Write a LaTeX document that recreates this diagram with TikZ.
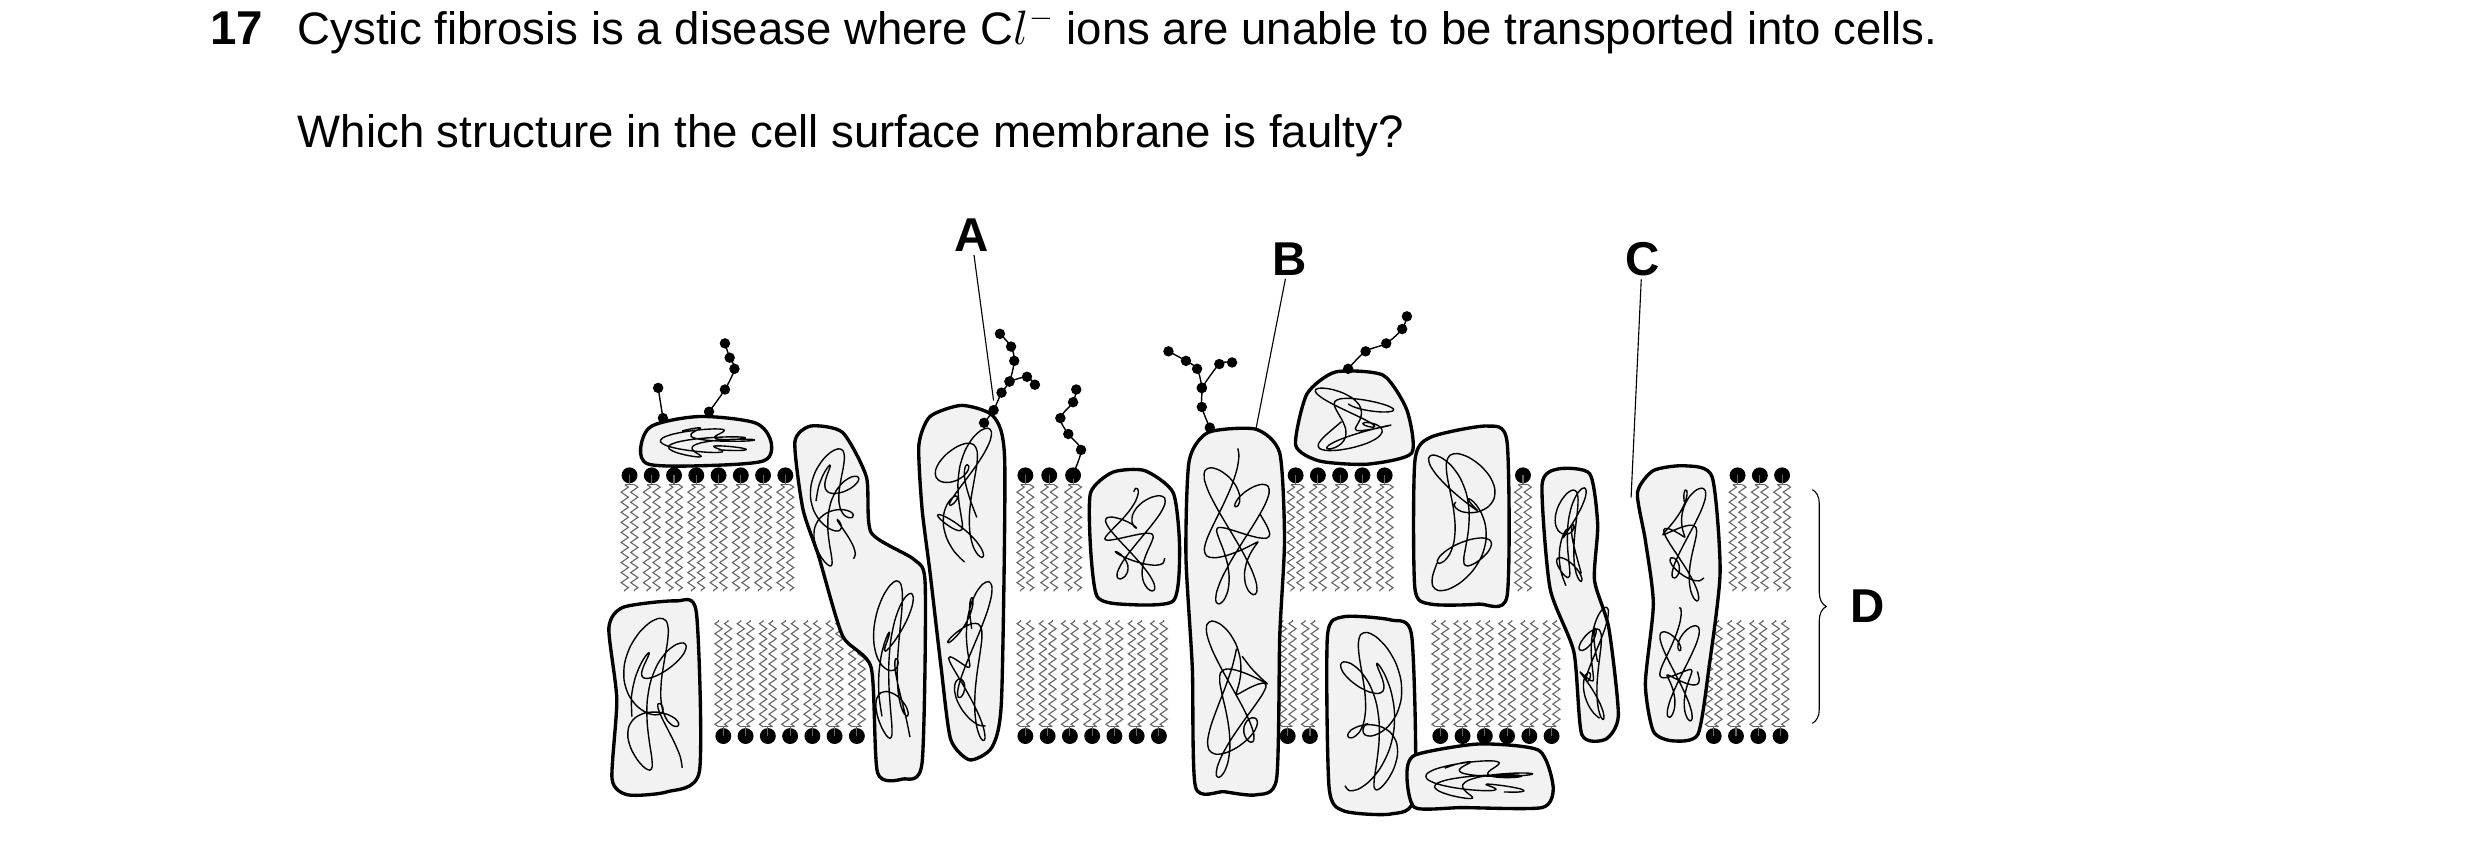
\documentclass[tikz,border=0pt]{standalone}
\usepackage{fontspec}
\setmainfont{Liberation Sans}
\usetikzlibrary{decorations.pathmorphing,decorations.pathreplacing}
\tikzset{
    protein/.style={
        draw,
        very thick, % outline of the protein
        fill=gray!10,
        line join=round
    },
    squiggle/.style={
        line width=0.5pt,
        line join=round
    },
    tail/.style={
        gray!80!black,
        line width=0.4pt,
        decorate,
        decoration={zigzag, amplitude=1.3pt, segment length=3.6pt}
    },
    chain/.style={
        line width=0.5pt,
        mark=*,
        mark size=1.6pt
    },
    label/.style={
        font=\bfseries\fontsize{17}{20}\selectfont,
        inner sep=1pt
    }
}
% one phospholipid: head at (#1,#2), tails towards #3
\newcommand{\lipid}[3]{
    \fill (#1,#2) circle (5);
    \draw[gray!80!black, line width=0.4pt] (#1,#2) -- (#1,{#2+(#3-#2)*0.08});
    \draw[gray!80!black, line width=0.4pt] (#1-3,{#2+(#3-#2)*0.08}) -- (#1+3,{#2+(#3-#2)*0.08});
    \draw[tail] (#1-3,{#2+(#3-#2)*0.08}) -- (#1-3,#3);
    \draw[tail] (#1+3,{#2+(#3-#2)*0.08}) -- (#1+3,#3);
}
% looped chain inside a box, #5 shifts the phase
\newcommand{\coil}[5]{
    \draw[squiggle] plot[smooth, domain=0:330, samples=70]
        ({(#1+#3)/2+(#3-#1)/2*(0.55*sin(3*\x+#5)+0.35*sin(7*\x+2*#5))},
         {(#2+#4)/2+(#4-#2)/2*(0.6*sin(2*\x+#5*1.5)+0.35*cos(5*\x+#5))});
}
\begin{document}
\begin{tikzpicture}[x=0.02cm, y=-0.02cm]
    \useasboundingbox (0,0) rectangle (1560,537);
    % question
    \node[label, anchor=base west] (num) at (130,28) {17};
    \node[anchor=base west, font=\fontsize{16.3}{20}\selectfont, inner sep=0] (q1) at (187,28)
        {Cystic fibrosis is a disease where C$l^{-}$ ions are unable to be transported into cells.};
    \node[anchor=base west, font=\fontsize{16.3}{20}\selectfont, inner sep=0] (q2) at (187,93)
        {Which structure in the cell surface membrane is faulty?};
    % upper leaflet
    \foreach \x in {396,410,424,438,452,466,480,494, 645,660,675, 815,829,843,857,871, 958, 1093,1107,1121}
        \lipid{\x}{299}{372};
    % lower leaflet
    \foreach \x in {455,469,483,497,511,525,539, 645,659,673,687,701,715,729, 810,824, 906,920,934,948,962,976, 1078,1092,1106,1120}
        \lipid{\x}{463}{390};
    % proteins
    \draw[protein] plot[smooth cycle] coordinates {(403,282) (410,268) (440,262) (475,266) (485,278) (480,290) (440,293) (408,292)};
    \coil{412}{268}{478}{288}{10}
    \draw[protein] plot[smooth cycle, tension=0.4] coordinates {(500,278) (510,268) (530,272) (545,300) (548,335) (575,352) (582,368) (580,480) (568,490) (552,486) (548,420) (530,400) (515,350) (505,320)};
    \coil{508}{280}{542}{360}{40}
    \coil{548}{360}{576}{482}{70}
    \draw[protein] plot[smooth cycle, tension=0.4] coordinates {(578,280) (585,262) (605,255) (625,262) (632,290) (630,440) (624,470) (610,478) (598,465) (592,420) (585,360) (580,320)};
    \coil{586}{266}{626}{362}{100}
    \coil{594}{362}{626}{470}{130}
    \draw[protein] plot[smooth cycle, tension=0.4] coordinates {(686,310) (700,297) (720,296) (738,310) (742,345) (738,378) (705,380) (690,375) (686,345)};
    \coil{692}{304}{736}{374}{160}
    \draw[protein] plot[smooth cycle, tension=0.4] coordinates {(748,290) (760,272) (790,270) (805,285) (808,340) (805,400) (803,490) (790,500) (770,498) (752,495) (750,420) (746,350)};
    \coil{754}{278}{802}{385}{190}
    \coil{756}{385}{800}{492}{220}
    \draw[protein] plot[smooth cycle, tension=0.4] coordinates {(815,280) (822,248) (840,234) (870,236) (885,258) (888,285) (860,292) (830,290)};
    \coil{824}{243}{880}{286}{250}
    \draw[protein] plot[smooth cycle, tension=0.4] coordinates {(890,290) (900,275) (935,268) (948,278) (948,375) (930,380) (900,380) (890,370)};
    \coil{896}{279}{943}{374}{280}
    \draw[protein] plot[smooth cycle, tension=0.4] coordinates {(835,400) (845,388) (875,390) (888,400) (890,500) (875,512) (845,510) (836,495)};
    \coil{841}{395}{884}{505}{310}
    \draw[protein] plot[smooth cycle, tension=0.4] coordinates {(885,488) (890,475) (930,468) (968,472) (977,495) (970,508) (920,508) (890,508)};
    \coil{893}{477}{968}{503}{20}
    \draw[protein] plot[smooth cycle, tension=0.4] coordinates {(383,395) (392,382) (425,378) (438,385) (440,485) (420,498) (395,500) (385,490) (388,440)};
    \coil{390}{386}{434}{494}{55}
    % chloride channel
    \draw[protein] plot[smooth cycle, tension=0.4] coordinates {(970,305) (980,295) (1000,298) (1005,330) (1003,365) (1012,395) (1018,450) (1010,465) (995,462) (990,410) (975,370)};
    \coil{977}{302}{999}{380}{85}
    \coil{992}{380}{1013}{458}{115}
    \draw[protein] plot[smooth cycle, tension=0.4] coordinates {(1030,310) (1040,296) (1060,293) (1077,300) (1082,360) (1075,420) (1068,462) (1052,466) (1040,460) (1035,430) (1040,380) (1035,340)};
    \coil{1044}{302}{1075}{380}{145}
    \coil{1042}{380}{1071}{458}{175}
    % glycocalyx chains
    \draw[chain] plot[smooth] coordinates {(417,263) (414,244)};
    \draw[chain] plot[smooth] coordinates {(446,259) (456,245) (462,232) (459,225) (456,216)};
    \draw[chain] plot[smooth] coordinates {(619,266) (625,258) (630,247) (635,240) (638,227) (636,218) (629,210)};
    \draw[chain] plot[smooth] coordinates {(635,240) (646,237) (651,242)};
    \draw[chain] plot[smooth] coordinates {(675,298) (680,283) (672,273) (667,263) (675,253) (677,245)};
    \draw[chain] plot[smooth] coordinates {(761,269) (756,256) (756,244) (753,232) (746,227) (735,221)};
    \draw[chain] plot[smooth] coordinates {(756,244) (767,229) (775,228)};
    \draw[chain] plot[smooth] coordinates {(848,232) (859,221) (872,216) (882,207) (885,199)};
    % labels
    \node[label] (A) at (611,148) {A};
    \node[label] (B) at (811,163) {B};
    \node[label] (C) at (1033,163) {C};
    \node[label] (D) at (1175,381) {D};
    \coordinate (a) at (625,252);
    \coordinate (b) at (790,270);
    \coordinate (c) at (1026,313);
    \draw[thin] (A) -- (a);
    \draw[thin] (B) -- (b);
    \draw[thin] (C) -- (c);
    \coordinate (d1) at (1140,308);
    \coordinate (d2) at (1140,455);
    \draw[thin, decorate, decoration={brace, amplitude=5pt}] (d1) -- (d2);
\end{tikzpicture}
\end{document}
